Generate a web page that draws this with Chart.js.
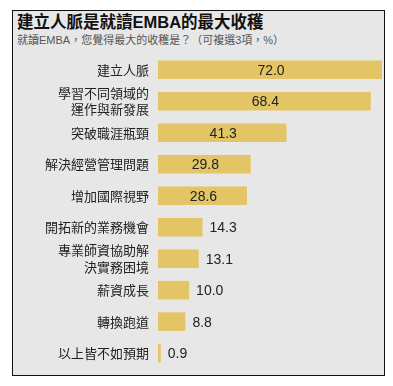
<!DOCTYPE html>
<html>
<head>
<meta charset="utf-8">
<script src="https://cdn.jsdelivr.net/npm/chart.js@4.4.0/dist/chart.umd.min.js"></script>
<style>
  html, body { margin: 0; padding: 0; background: #fff; }
  body { width: 393px; height: 386px; position: relative; overflow: hidden;
         font-family: "Liberation Sans", "Noto Sans CJK TC", sans-serif; }
  #frame { position: absolute; left: 12px; top: 10px; width: 371px; height: 364px;
           border: 1.5px solid #111; background: #e7e7e7; }
  #title { position: absolute; left: 17px; top: 9px; font-size: 16.5px; font-weight: bold;
           color: #111; white-space: nowrap; }
  #subtitle { position: absolute; left: 17px; top: 31px; font-size: 11px; color: #555;
              white-space: nowrap; }
  #chart { position: absolute; left: 0; top: 0; }
</style>
</head>
<body>
<div id="frame"></div>
<div id="title">建立人脈是就讀EMBA的最大收穫</div>
<div id="subtitle">就讀EMBA，您覺得最大的收穫是？（可複選3項，%）</div>
<canvas id="chart" width="393" height="386"></canvas>
<script>
var categories = [
    ["建立人脈"],
    ["學習不同領域的", "運作與新發展"],
    ["突破職涯瓶頸"],
    ["解決經營管理問題"],
    ["增加國際視野"],
    ["開拓新的業務機會"],
    ["專業師資協助解", "決實務困境"],
    ["薪資成長"],
    ["轉換跑道"],
    ["以上皆不如預期"]
];
var values = [72.0, 68.4, 41.3, 29.8, 28.6, 14.3, 13.1, 10.0, 8.8, 0.9];

// numbers: inside the bar when it is long enough, otherwise just after it
var valueLabels = {
    id: "valueLabels",
    afterDatasetsDraw: function (chart) {
        var ctx = chart.ctx;
        var meta = chart.getDatasetMeta(0);
        ctx.save();
        ctx.font = "14px 'Liberation Sans', Arial, sans-serif";
        ctx.fillStyle = "#222";
        ctx.textBaseline = "middle";
        meta.data.forEach(function (bar, i) {
            var v = values[i];
            var txt = v.toFixed(1);
            if (v > 20) {
                ctx.textAlign = "center";
                ctx.fillText(txt, (bar.x + bar.base) / 2 + 1, bar.y + 1);
            } else {
                ctx.textAlign = "left";
                ctx.fillText(txt, bar.x + 7, bar.y + 1);
            }
        });
        ctx.restore();
    }
};

var chart = new Chart(document.getElementById("chart"), {
    type: "bar",
    data: {
        labels: categories,
        datasets: [{
            data: values,
            backgroundColor: "#e4c565",
            borderWidth: 0,
            barPercentage: 0.59,
            categoryPercentage: 1
        }]
    },
    options: {
        indexAxis: "y",
        responsive: false,
        animation: false,
        layout: { padding: { top: 54, right: 11, bottom: 9, left: 0 } },
        plugins: {
            legend: { display: false },
            tooltip: { enabled: false }
        },
        scales: {
            x: { display: false, min: 0, max: 72 },
            y: {
                grid: { display: false, drawTicks: false },
                border: { display: false },
                ticks: {
                    autoSkip: false,
                    padding: 9,
                    color: "#222",
                    font: { family: "'Noto Sans CJK TC', sans-serif", size: 13, lineHeight: 1.25 }
                },
                afterFit: function (scale) { scale.width = 158; }
            }
        }
    },
    plugins: [valueLabels]
});
</script>
</body>
</html>
